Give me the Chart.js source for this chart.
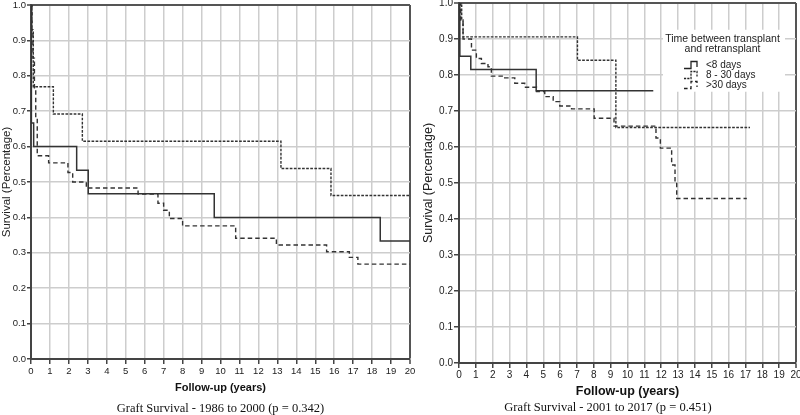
<!DOCTYPE html>
<html>
<head>
<meta charset="utf-8">
<script src="https://cdn.jsdelivr.net/npm/chart.js@4.4.1/dist/chart.umd.min.js"></script>
<style>
  html, body { margin: 0; padding: 0; background: #fff; }
  body { width: 800px; height: 415px; position: relative; overflow: hidden; }
  canvas { position: absolute; top: 0; }
  #left { left: 0; }
  #right { left: 420px; }
</style>
</head>
<body>
<canvas id="left" width="420" height="415"></canvas>
<canvas id="right" width="380" height="415"></canvas>
<script>
// ---------------- DATA ----------------
const seriesLabels = ['<8 days', '8 - 30 days', '>30 days'];
const xTicksMax = 20;

// Period 1986 - 2000 (left)
const early_lt8_t   = [0, 0.02, 0.14, 2.41, 3.02, 9.67, 18.43, 20];
const early_lt8_s   = [1.0, 0.667, 0.600, 0.533, 0.467, 0.400, 0.333, 0.333];
const early_8to30_t = [0, 0.05, 0.12, 1.18, 2.71, 13.19, 15.83, 20];
const early_8to30_s = [1.0, 0.923, 0.769, 0.692, 0.615, 0.538, 0.462, 0.462];
const early_gt30_t  = [0, 0.05, 0.10, 0.18, 0.25, 0.33, 0.93, 1.95, 2.20, 2.92, 5.65, 6.70, 7.00, 7.30, 8.00, 10.80, 12.95, 15.60, 16.80, 17.25, 20];
const early_gt30_s  = [1.0, 0.930, 0.850, 0.760, 0.680, 0.574, 0.554, 0.527, 0.500, 0.483, 0.466, 0.440, 0.420, 0.397, 0.376, 0.341, 0.322, 0.303, 0.287, 0.268, 0.268];

// Period 2001 - 2017 (right)
const late_lt8_t   = [0, 0.05, 0.70, 4.58, 11.53];
const late_lt8_s   = [1.0, 0.852, 0.815, 0.756, 0.756];
const late_8to30_t = [0, 0.16, 0.24, 7.03, 9.31, 17.27];
const late_8to30_s = [1.0, 0.953, 0.906, 0.841, 0.654, 0.654];
const late_gt30_t  = [0, 0.10, 0.24, 0.74, 1.03, 1.33, 1.72, 1.92, 2.71, 3.31, 3.90, 4.60, 5.09, 5.59, 5.98, 6.68, 8.02, 9.20, 11.69, 11.95, 12.62, 12.82, 12.92, 17.08];
const late_gt30_s  = [1.0, 0.950, 0.900, 0.869, 0.846, 0.832, 0.823, 0.797, 0.792, 0.777, 0.766, 0.754, 0.740, 0.726, 0.714, 0.706, 0.680, 0.658, 0.625, 0.597, 0.550, 0.504, 0.457, 0.457];

const captionLeft  = 'Graft Survival - 1986 to 2000 (p = 0.342)';
const captionRight = 'Graft Survival - 2001 to 2017 (p = 0.451)';
const xTitle = 'Follow-up (years)';
const yTitle = 'Survival (Percentage)';
const legendTitle = ['Time between transplant', 'and retransplant'];

// ---------------- STYLE ----------------
const SANS = "'Liberation Sans', Arial, sans-serif";
const SERIF = "'Liberation Serif', 'Times New Roman', serif";
const lineColor = '#333';
const dashes = [[], [2.7, 1.4], [4.5, 3]];

function pts(t, s) { return t.map((x, i) => ({ x: x, y: s[i] })); }

function legendIcon(dash) {
  const c = document.createElement('canvas');
  c.width = 41; c.height = 10;
  const g = c.getContext('2d');
  g.strokeStyle = '#222'; g.lineWidth = 1.3; g.setLineDash(dash.map(d => d * 0.8));
  g.beginPath();
  g.moveTo(24, 8.5); g.lineTo(31, 8.5); g.lineTo(31, 1.5); g.lineTo(37, 1.5); g.lineTo(37, 7);
  g.stroke();
  return c;
}

function makeDatasets(tArr, sArr) {
  return tArr.map((t, i) => ({
    label: seriesLabels[i],
    data: pts(t, sArr[i]),
    borderColor: lineColor,
    borderWidth: i === 0 ? 1.5 : 1.4,
    borderDash: dashes[i],
    stepped: 'before',
    fill: false,
    pointRadius: 0,
    pointHoverRadius: 0,
    pointStyle: legendIcon(dashes[i])
  }));
}

function scalesFor(cfg) {
  return {
    x: {
      type: 'linear', min: 0, max: xTicksMax,
      ticks: { stepSize: 1, autoSkip: false, maxRotation: 0, padding: cfg.xTickPad, color: '#222',
               font: { family: SANS, size: cfg.tickFont } },
      grid: {
        color: c => (c.tick && c.tick.value === xTicksMax) ? '#555' : '#cdcdcd',
        lineWidth: c => (c.tick && c.tick.value === xTicksMax) ? 2 : 1.5,
        tickLength: 5, tickColor: '#444', tickWidth: 1.5
      },
      border: { color: '#444', width: 2 },
      title: { display: true, text: xTitle, color: '#111',
               font: { family: SANS, size: cfg.xTitleFont, weight: 'bold', lineHeight: 1 },
               padding: { top: 0, bottom: cfg.xTitlePadBottom } },
      afterFit: s => { s.height = cfg.xHeight; s.paddingLeft = 0; s.paddingRight = 0; }
    },
    y: {
      type: 'linear', min: 0, max: 1,
      ticks: { stepSize: 0.1, padding: 1, color: '#222', callback: v => v.toFixed(1),
               font: { family: SANS, size: cfg.tickFont } },
      grid: {
        color: c => (c.tick && Math.abs(c.tick.value - 1) < 1e-6) ? '#555' : '#cdcdcd',
        lineWidth: c => (c.tick && Math.abs(c.tick.value - 1) < 1e-6) ? 2 : 1.5,
        tickLength: cfg.yTickLen, tickColor: '#444', tickWidth: 1.5
      },
      border: { color: '#444', width: 2 },
      title: { display: true, text: yTitle, color: '#222',
               font: { family: SANS, size: cfg.yTitleFont, lineHeight: 1 },
               padding: { top: cfg.yTitlePadTop, bottom: 0 } },
      afterFit: s => { s.width = cfg.yWidth; s.paddingTop = 0; s.paddingBottom = 0; }
    }
  };
}

// ---------------- LEFT CHART ----------------
new Chart(document.getElementById('left'), {
  type: 'line',
  data: { datasets: makeDatasets([early_lt8_t, early_8to30_t, early_gt30_t], [early_lt8_s, early_8to30_s, early_gt30_s]) },
  options: {
    responsive: false, animation: false, devicePixelRatio: 1,
    layout: { padding: { top: 5, right: 10, bottom: 0, left: 0 } },
    scales: scalesFor({ xTickPad: 2, tickFont: 9.5, xTitleFont: 11, xTitlePadBottom: 9.5, xHeight: 43.5,
                        yTickLen: 4, yTitleFont: 11.5, yTitlePadTop: 1.5, yWidth: 31 }),
    plugins: {
      legend: { display: false },
      tooltip: { enabled: false },
      title: { display: true, position: 'bottom', text: captionLeft, color: '#111', fullSize: false,
               font: { family: SERIF, size: 12.5, weight: 'normal', lineHeight: 1 },
               padding: { top: 0, bottom: 0 } }
    }
  }
});

// ---------------- RIGHT CHART ----------------
const legendPlace = {
  id: 'legendPlace',
  afterLayout(chart) {
    const lg = chart.legend;
    if (!lg) return;
    lg.left = 240; lg.top = 33.75; lg.width = 125; lg.height = 62;
    lg.right = lg.left + lg.width; lg.bottom = lg.top + lg.height;
  },
  beforeDatasetsDraw(chart) {
    const lg = chart.legend;
    if (!lg) return;
    const ctx = chart.ctx;
    ctx.save();
    ctx.fillStyle = '#ffffff';
    ctx.fillRect(lg.left + 3, lg.top - 4, lg.width - 3, lg.height);
    ctx.restore();
    lg.draw();
  }
};

new Chart(document.getElementById('right'), {
  type: 'line',
  data: { datasets: makeDatasets([late_lt8_t, late_8to30_t, late_gt30_t], [late_lt8_s, late_8to30_s, late_gt30_s]) },
  options: {
    responsive: false, animation: false, devicePixelRatio: 1,
    layout: { padding: { top: 3, right: 4, bottom: 0, left: 0 } },
    scales: scalesFor({ xTickPad: 1.5, tickFont: 10, xTitleFont: 12.5, xTitlePadBottom: 3.5, xHeight: 38.5,
                        yTickLen: 5, yTitleFont: 12.5, yTitlePadTop: 2, yWidth: 39 }),
    plugins: {
      tooltip: { enabled: false },
      legend: {
        display: true, position: 'chartArea', align: 'start',
        labels: { usePointStyle: true, pointStyleWidth: 41, boxHeight: 10, padding: 0, color: '#222',
                  font: { family: SANS, size: 10 } },
        title: { display: true, text: legendTitle, color: '#222', position: 'center',
                 font: { family: SANS, size: 10.5, lineHeight: 1 },
                 padding: { top: 0, bottom: 15.75 } }
      },
      title: { display: true, position: 'bottom', text: captionRight, color: '#111', fullSize: true,
               font: { family: SERIF, size: 12.5, weight: 'normal', lineHeight: 1 },
               padding: { top: 0, bottom: 1 } }
    }
  },
  plugins: [legendPlace]
});
</script>
</body>
</html>
